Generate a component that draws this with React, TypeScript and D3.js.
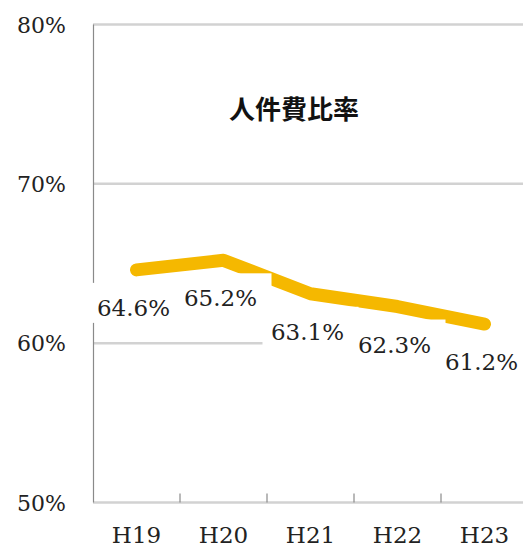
import React from "react";
import * as d3 from "d3";

const categories = ["H19", "H20", "H21", "H22", "H23"];
const values = [64.6, 65.2, 63.1, 62.3, 61.2];
const yTicks = [50, 60, 70, 80];
const title = "人件費比率";

const W = 523;
const H = 550;

export default function App() {
  const x = d3.scaleBand<string>().domain(categories).range([93, 528]).padding(0);
  const y = d3.scaleLinear().domain([50, 80]).range([502.5, 24.5]);
  const cx = (c: string) => (x(c) ?? 0) + x.bandwidth() / 2;
  const line = d3
    .line<number>()
    .x((_, i) => cx(categories[i]))
    .y((d) => y(d))
    .curve(d3.curveLinear);
  const serif = "'DejaVu Serif', serif";
  const boundaries = categories.slice(1).map((c) => x(c) ?? 0);

  return (
    <svg
      width={W}
      height={H}
      style={{ position: "absolute", left: 0, top: 0, background: "#fff" }}
    >
      <rect x={0} y={0} width={W} height={H} fill="#fff" />
      {yTicks.map((t) => (
        <line
          key={t}
          x1={93}
          x2={W}
          y1={y(t)}
          y2={y(t)}
          stroke="#d2d2d2"
          strokeWidth={2.5}
        />
      ))}
      <line x1={93.5} x2={93.5} y1={y(80)} y2={y(50)} stroke="#8a8a8a" strokeWidth={1.2} />
      {boundaries.map((b, i) => (
        <line key={i} x1={b} x2={b} y1={y(50)} y2={y(50) - 9} stroke="#8a8a8a" strokeWidth={1.2} />
      ))}
      {yTicks.map((t) => (
        <text
          key={t}
          x={66}
          y={y(t) + 8}
          textAnchor="end"
          fontFamily={serif}
          fontSize={22}
          fill="#222"
        >
          {t}%
        </text>
      ))}
      {categories.map((c) => (
        <text
          key={c}
          x={cx(c)}
          y={543}
          textAnchor="middle"
          fontFamily={serif}
          fontSize={23}
          fill="#222"
        >
          {c}
        </text>
      ))}
      <path
        d={line(values) ?? ""}
        fill="none"
        stroke="#F5B800"
        strokeWidth={13}
        strokeLinecap="round"
        strokeLinejoin="round"
      />
      {values.map((v, i) => {
        const px = cx(categories[i]);
        const by = y(v) + 46;
        return (
          <g key={i}>
            <rect x={px - 48} y={by - 33} width={96} height={40} fill="#fff" />
            <text
              x={px - 3}
              y={by}
              textAnchor="middle"
              fontFamily={serif}
              fontSize={23}
              fill="#222"
            >
              {v.toFixed(1)}%
            </text>
          </g>
        );
      })}
      <text
        x={294}
        y={119}
        textAnchor="middle"
        fontFamily="'Noto Sans CJK JP', sans-serif"
        fontWeight={700}
        fontSize={26}
        fill="#111"
      >
        {title}
      </text>
    </svg>
  );
}
